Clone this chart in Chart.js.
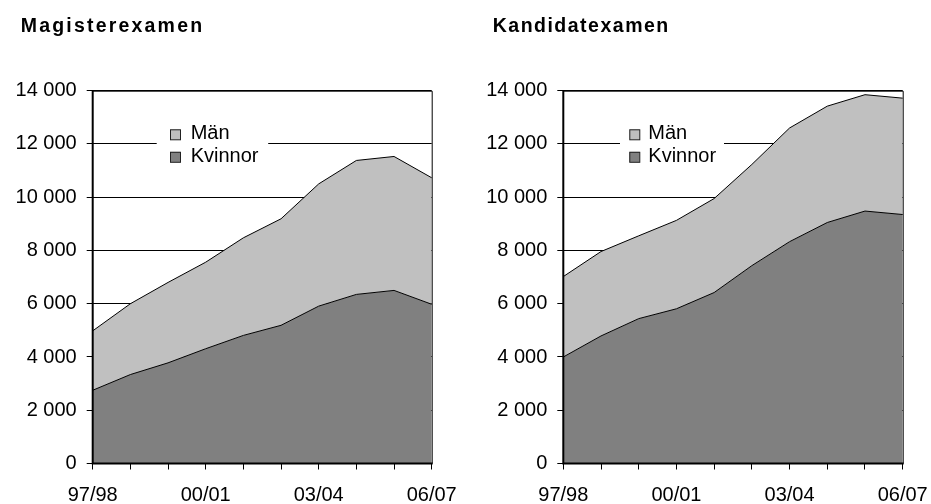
<!DOCTYPE html>
<html>
<head>
<meta charset="utf-8">
<script src="https://cdn.jsdelivr.net/npm/chart.js@4/dist/chart.umd.min.js"></script>
<style>
  html, body { margin: 0; padding: 0; background: #fff; }
  #wrap { position: relative; width: 931px; height: 504px; overflow: hidden; }
  .panel { position: absolute; top: 0; height: 504px; }
</style>
</head>
<body>
<div id="wrap">
  <div class="panel" style="left:0;width:465px"><canvas id="mag" width="465" height="504"></canvas></div>
  <div class="panel" style="left:465px;width:466px"><canvas id="kand" width="466" height="504"></canvas></div>
</div>
<script>
// läsår
const years = ['97/98', '98/99', '99/00', '00/01', '01/02', '02/03', '03/04', '04/05', '05/06', '06/07'];

// Magisterexamen
const magKvinnor = [2750, 3340, 3780, 4310, 4810, 5190, 5910, 6350, 6500, 5980];
const magMan = [2230, 2660, 3020, 3250, 3665, 4000, 4590, 5030, 5030, 4750];

// Kandidatexamen
const kandKvinnor = [4000, 4790, 5440, 5810, 6420, 7430, 8330, 9050, 9480, 9350];
const kandMan = [3020, 3170, 3110, 3320, 3530, 3800, 4270, 4370, 4370, 4370];

const FONT = '"Liberation Sans", Arial, Helvetica, sans-serif';

// titel med spärrad text
const spacedTitle = {
  id: 'spacedTitle',
  afterDraw(chart, args, opts) {
    const ctx = chart.ctx;
    ctx.save();
    ctx.font = 'bold 19.5px ' + FONT;
    ctx.letterSpacing = opts.spacing + 'px';
    ctx.fillStyle = '#000';
    ctx.textBaseline = 'alphabetic';
    ctx.textAlign = 'left';
    ctx.fillText(opts.text, opts.x, 32.3);
    ctx.restore();
  },
};

// ram runt diagramytan
const frame = {
  id: 'frame',
  afterDatasetsDraw(chart) {
    const { ctx, chartArea: a } = chart;
    ctx.save();
    ctx.strokeStyle = '#000';
    ctx.lineWidth = 1;
    ctx.beginPath();
    ctx.moveTo(a.left, a.top + 0.5);
    ctx.lineTo(a.right + 0.5, a.top + 0.5);
    ctx.lineTo(a.right + 0.5, a.bottom);
    ctx.stroke();
    ctx.lineWidth = 2;
    ctx.beginPath();
    ctx.moveTo(a.left, a.top);
    ctx.lineTo(a.left, a.bottom);
    ctx.lineTo(a.right + 1, a.bottom);
    ctx.stroke();
    ctx.restore();
  },
};

// förklaring inne i diagrammet
const innerLegend = {
  id: 'innerLegend',
  afterDraw(chart, args, opts) {
    const { ctx, chartArea: a } = chart;
    const items = chart.data.datasets.slice().reverse();
    ctx.save();
    ctx.fillStyle = '#fff';
    ctx.fillRect(a.left + opts.boxX, a.top + 28, opts.boxW, 50);
    ctx.font = '20px ' + FONT;
    ctx.textBaseline = 'alphabetic';
    items.forEach((ds, i) => {
      const y = a.top + 38.6 + i * 22.5;
      ctx.fillStyle = ds.backgroundColor;
      ctx.fillRect(a.left + opts.squareX, y, 10.5, 10.5);
      ctx.strokeStyle = '#222';
      ctx.lineWidth = 1;
      ctx.strokeRect(a.left + opts.squareX + 0.5, y + 0.5, 10, 10);
      ctx.fillStyle = '#000';
      ctx.fillText(ds.label, a.left + opts.textX, y + 10);
    });
    ctx.restore();
  },
};

function makeChart(id, title, kvinnor, man, lay) {
  return new Chart(document.getElementById(id), {
    type: 'line',
    data: {
      labels: years,
      datasets: [
        {
          label: 'Kvinnor',
          data: kvinnor,
          fill: 'origin',
          backgroundColor: '#808080',
          borderColor: '#000',
          borderWidth: 1,
          pointRadius: 0,
          tension: 0,
        },
        {
          label: 'Män',
          data: man,
          fill: '-1',
          backgroundColor: '#c0c0c0',
          borderColor: '#000',
          borderWidth: 1,
          pointRadius: 0,
          tension: 0,
        },
      ],
    },
    options: {
      responsive: false,
      animation: false,
      layout: { padding: { left: 0, right: lay.right, top: 90.7, bottom: 0 } },
      plugins: {
        legend: { display: false },
        tooltip: { enabled: false },
        spacedTitle: { text: title, x: lay.titleX, spacing: lay.spacing },
        innerLegend: lay.legend,
      },
      scales: {
        x: {
          offset: false,
          grid: { drawOnChartArea: false, drawTicks: true, tickLength: 6, color: '#000', lineWidth: 1 },
          border: { display: false },
          ticks: {
            autoSkip: false,
            maxRotation: 0,
            padding: 14,
            color: '#000',
            font: { family: FONT, size: 20 },
            callback(v, i) { return i % 3 === 0 ? years[i] : ''; },
          },
          afterFit(s) {
            s.height = 40.5;
            s.paddingLeft = 0;
            s.paddingRight = 0;
          },
        },
        y: {
          stacked: true,
          min: 0,
          max: 14000,
          grid: { color: '#000', lineWidth: 1, tickLength: 6 },
          border: { display: false },
          ticks: {
            stepSize: 2000,
            padding: 10,
            color: '#000',
            font: { family: FONT, size: 20 },
            callback(v) { return String(v).replace(/\B(?=(\d{3})+(?!\d))/g, ' '); },
          },
          afterFit(s) { s.width = lay.yWidth; },
        },
      },
    },
    plugins: [frame, innerLegend, spacedTitle],
  });
}

makeChart('mag', 'Magisterexamen', magKvinnor, magMan, {
  right: 33.3, yWidth: 92.7, titleX: 20.7, spacing: 2.2,
  legend: { boxX: 64, boxW: 111.5, squareX: 77.3, textX: 98 },
});

makeChart('kand', 'Kandidatexamen', kandKvinnor, kandMan, {
  right: 28.3, yWidth: 98.3, titleX: 27.7, spacing: 1.5,
  legend: { boxX: 56.7, boxW: 104, squareX: 66, textX: 85 },
});
</script>
</body>
</html>
